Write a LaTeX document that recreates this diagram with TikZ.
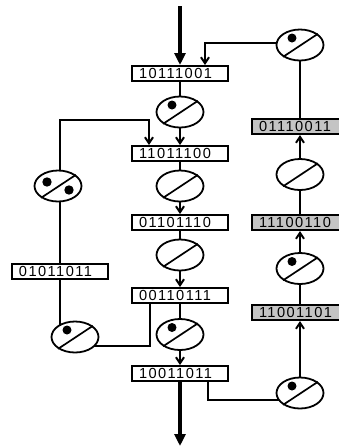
\documentclass[tikz,border=0pt]{standalone}
\usepackage{fontspec}
\newfontfamily\boxfont[LetterSpace=10]{Liberation Sans}
\usetikzlibrary{shapes.geometric,arrows.meta,backgrounds}
\definecolor{boxgray}{RGB}{196,196,196}
\tikzset{
  wbox/.style={rectangle, draw, line width=2pt, fill=white,
    minimum width=96pt, minimum height=15pt, inner xsep=7pt, inner ysep=0pt,
    text width=82pt, align=left, text height=10.5pt, text depth=0pt,
    font=\boxfont\fontsize{14.6}{16}\selectfont},
  gbox/.style={wbox, fill=boxgray},
  ell/.style={ellipse, draw, fill=white, line width=1.8pt,
    minimum width=47pt, minimum height=31pt, inner sep=0pt},
  conn/.style={line width=2pt},
  arr/.style={conn, -{Straight Barb[length=6pt,width=8pt]}},
  thick arr/.style={line width=3.8pt, -{Triangle[length=12pt,width=11pt]}},
  diag/.style={line width=1.7pt},
}
\newcommand{\ellslash}[1]{\draw[diag] (#1.215) -- (#1.32);}
\newcommand{\onedot}[1]{\fill ([shift={(-8,-7)}]#1.center) circle (4.5pt);}
\newcommand{\twodots}[1]{\fill ([shift={(-11,-4)}]#1.center) circle (4.7pt);
  \fill ([shift={(11,4)}]#1.center) circle (4.7pt);}
\begin{document}
\begin{tikzpicture}[x=1pt,y=-1pt]
\useasboundingbox (0,0) rectangle (339,448);
% main column
\node[wbox] (b1) at (180,73.5) {10111001};
\node[ell] (e1) at (180,112) {};
\node[wbox] (b2) at (180,153.5) {11011100};
\node[ell] (e2) at (180,186) {};
\node[wbox] (b3) at (180,222.5) {01101110};
\node[ell] (e3) at (180,255) {};
\node[wbox] (b4) at (180,295.5) {00110111};
\node[ell] (e4) at (180,334.5) {};
\node[wbox] (b5) at (180,373.5) {10011011};
% left column
\node[ell] (l1) at (58,186) {};
\node[wbox] (lb) at (60,271.5) {01011011};
\node[ell] (l2) at (75,337) {};
% right column
\node[ell] (r1) at (300,45) {};
\node[gbox] (g1) at (300,126.5) {01110011};
\node[ell] (r2) at (300,174.5) {};
\node[gbox] (g2) at (300,222.5) {11100110};
\node[ell] (r3) at (300,268.5) {};
\node[gbox] (g3) at (300,312.5) {11001101};
\node[ell] (r4) at (300,393) {};
\coordinate (top) at (180,6);
\coordinate (bot) at (180,446);
\coordinate (tl) at (60,120);
\coordinate (tr) at (205,43);
\coordinate (bl) at (150,346);
\coordinate (br) at (208,400);
% marks inside ellipses
\foreach \e in {e1,e4,r1,r3,r4,l2} {\onedot{\e}}
\twodots{l1}
\foreach \e in {e1,e2,e3,e4,l1,l2,r1,r2,r3,r4} {\ellslash{\e}}
\begin{pgfonlayer}{background}
% main column
\draw[thick arr] (top) -- (b1.north);
\draw[conn] (b1.south) -- (e1.north);
\draw[arr] (e1.south) -- (b2.north);
\draw[conn] (b2.south) -- (e2.north);
\draw[arr] (e2.south) -- (b3.north);
\draw[conn] (b3.south) -- (e3.north);
\draw[arr] (e3.south) -- (b4.north);
\draw[conn] (b4.south) -- (e4.north);
\draw[arr] (e4.south) -- (b5.north);
\draw[thick arr] (b5.south) -- (bot);
% left loop
\draw[conn] (b4.south -| bl) -- (bl) -- (bl -| l2.center);
\draw[conn] (lb.south -| tl) -- (tl |- l2.center);
\draw[conn] (lb.north -| tl) -- (tl |- l1.center);
\draw[arr] (tl |- l1.center) -- (tl) -| (b2.north -| 149,0);
% right loop
\draw[conn] (b5.south -| br) -- (br) -- (br -| r4.center);
\draw[arr] (r4.north) -- (g3.south);
\draw[conn] (g3.north) -- (r3.south);
\draw[arr] (r3.north) -- (g2.south);
\draw[conn] (g2.north) -- (r2.south);
\draw[arr] (r2.north) -- (g1.south);
\draw[conn] (g1.north) -- (r1.south);
\draw[arr] (tr -| r1.center) -- (tr) -- (b1.north -| tr);
\end{pgfonlayer}
\end{tikzpicture}
\end{document}
